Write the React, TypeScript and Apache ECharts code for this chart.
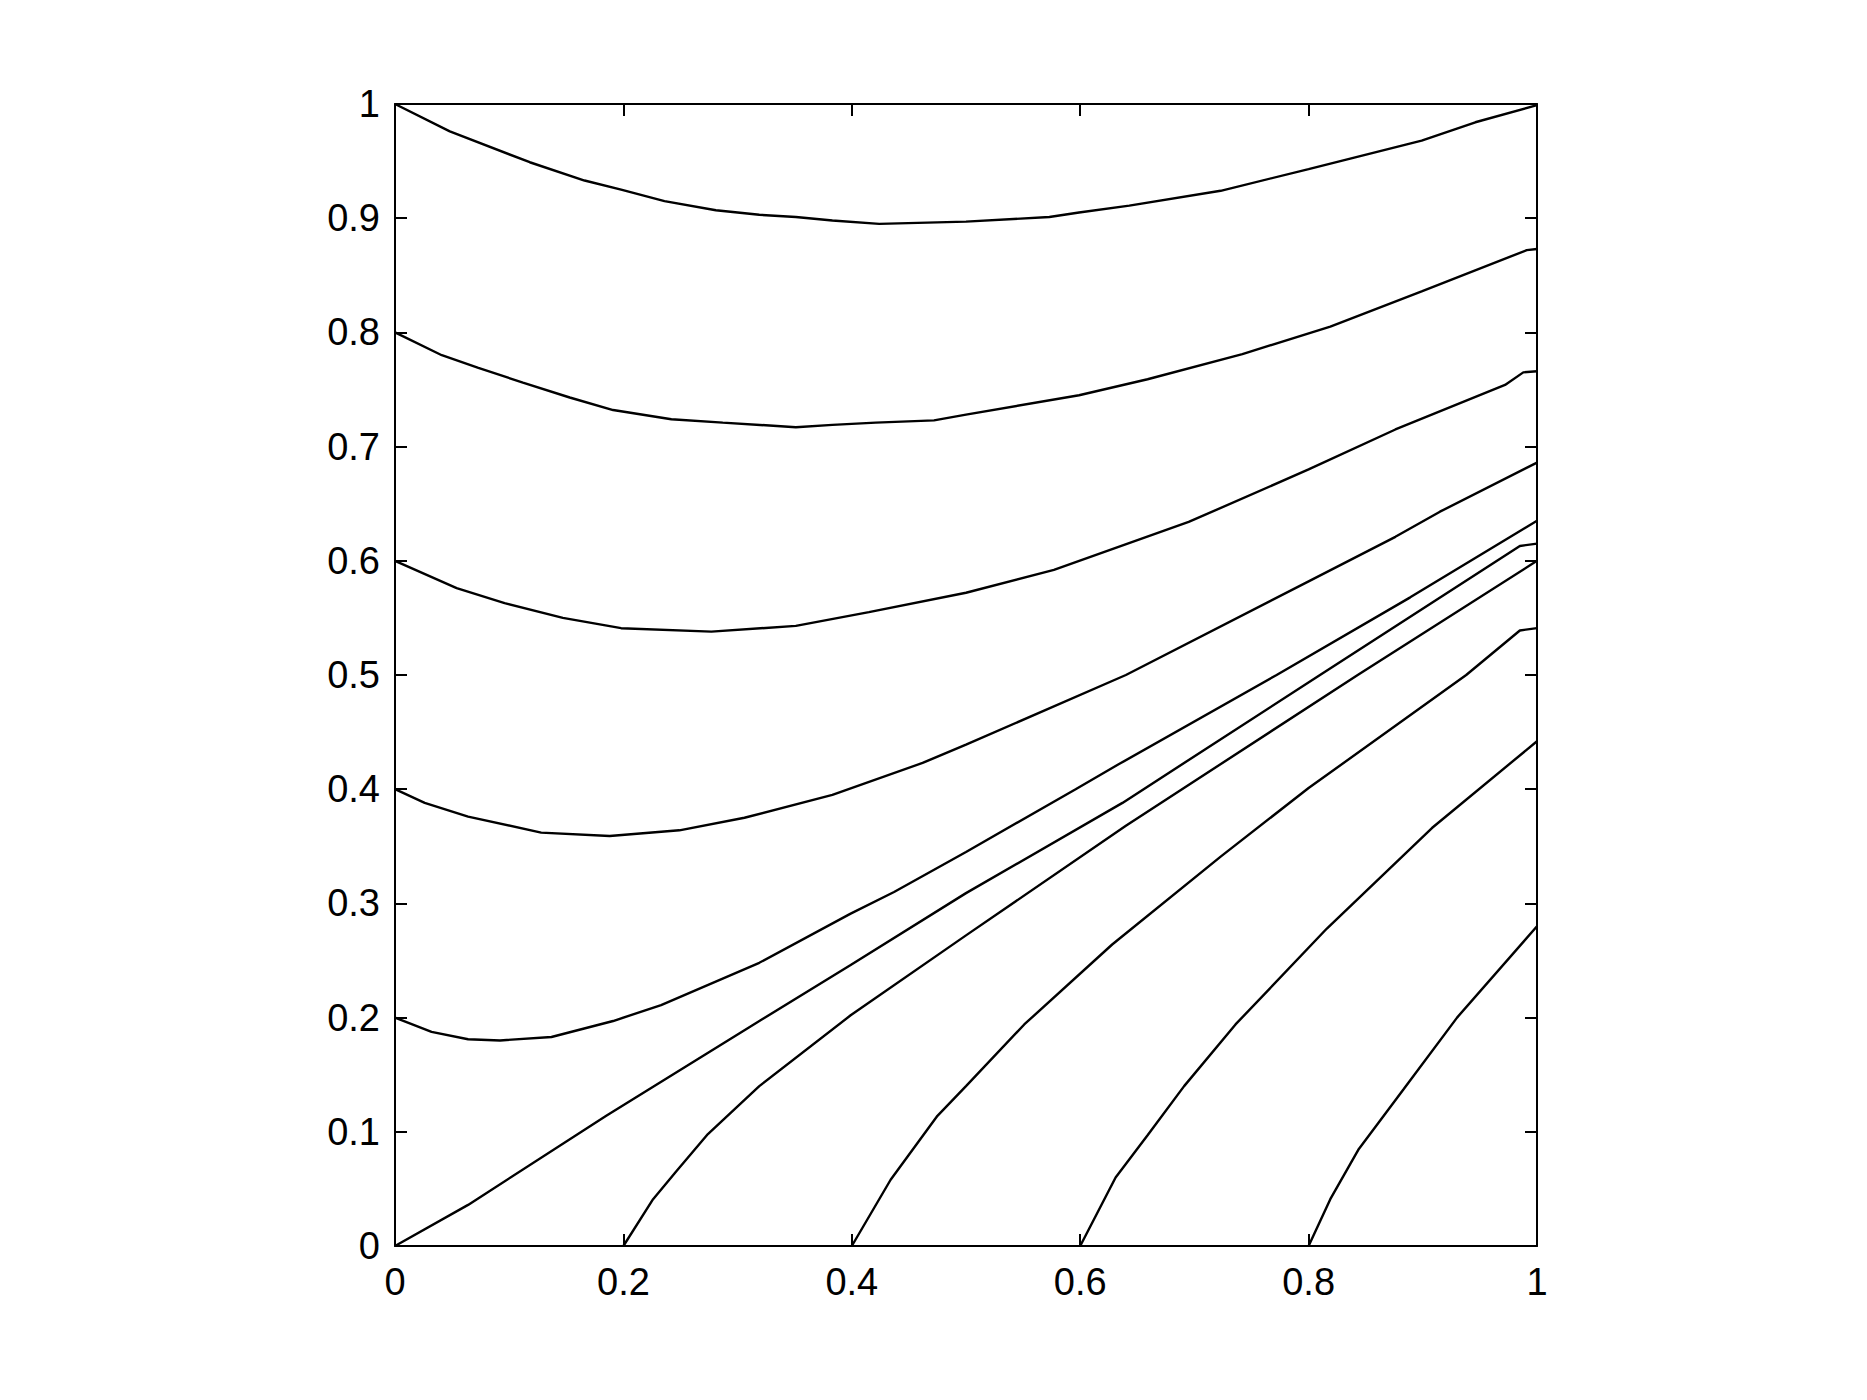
import React, { useEffect, useRef } from "react";
import * as echarts from "echarts";

// Streamline curves, each as [x, y] pairs
const curveFromY100: number[][] = [
  [0, 1.0], [0.048, 0.976], [0.118, 0.949], [0.166, 0.933], [0.198, 0.925], [0.236, 0.915],
  [0.281, 0.907], [0.319, 0.903], [0.351, 0.901], [0.383, 0.898], [0.424, 0.895], [0.5, 0.897],
  [0.573, 0.901], [0.599, 0.905], [0.643, 0.911], [0.723, 0.924], [0.8, 0.943], [0.899, 0.968],
  [0.946, 0.984], [1.0, 0.999],
];
const curveFromY080: number[][] = [
  [0, 0.8], [0.041, 0.78], [0.073, 0.769], [0.112, 0.756], [0.153, 0.743], [0.191, 0.732],
  [0.242, 0.724], [0.287, 0.721], [0.351, 0.717], [0.383, 0.719], [0.421, 0.721], [0.472, 0.723],
  [0.5, 0.728], [0.599, 0.745], [0.659, 0.759], [0.742, 0.781], [0.819, 0.805], [0.899, 0.836],
  [0.991, 0.872], [1.0, 0.873],
];
const curveFromY060: number[][] = [
  [0, 0.6], [0.054, 0.576], [0.096, 0.563], [0.147, 0.55], [0.198, 0.541], [0.277, 0.538],
  [0.351, 0.543], [0.415, 0.555], [0.5, 0.572], [0.577, 0.592], [0.695, 0.634], [0.8, 0.68],
  [0.876, 0.715], [0.972, 0.754], [0.988, 0.765], [1.0, 0.766],
];
const curveFromY040: number[][] = [
  [0, 0.4], [0.026, 0.388], [0.064, 0.376], [0.128, 0.362], [0.188, 0.359], [0.249, 0.364],
  [0.306, 0.375], [0.383, 0.395], [0.462, 0.423], [0.5, 0.439], [0.64, 0.5], [0.8, 0.582],
  [0.876, 0.621], [0.915, 0.643], [1.0, 0.686],
];
const curveFromY020: number[][] = [
  [0, 0.2], [0.032, 0.1875], [0.064, 0.181], [0.092, 0.18], [0.137, 0.183], [0.191, 0.197],
  [0.233, 0.211], [0.319, 0.248], [0.399, 0.291], [0.437, 0.31], [0.5, 0.345], [0.596, 0.4],
  [0.634, 0.422], [0.772, 0.5], [0.889, 0.568], [1.0, 0.635],
];
const curveFromOrigin: number[][] = [
  [0, 0], [0.064, 0.036], [0.185, 0.114], [0.306, 0.189], [0.399, 0.246], [0.5, 0.309],
  [0.637, 0.388], [0.81, 0.5], [0.985, 0.613], [1.0, 0.615],
];
const curveFromX020: number[][] = [
  [0.2, 0], [0.226, 0.041], [0.246, 0.065], [0.274, 0.098], [0.319, 0.14], [0.399, 0.202],
  [0.5, 0.272], [0.64, 0.368], [0.843, 0.5], [1.0, 0.6],
];
const curveFromX040: number[][] = [
  [0.4, 0], [0.434, 0.058], [0.475, 0.114], [0.5, 0.14], [0.551, 0.194], [0.628, 0.264],
  [0.723, 0.341], [0.8, 0.401], [0.938, 0.5], [0.985, 0.539], [1.0, 0.541],
];
const curveFromX060: number[][] = [
  [0.6, 0], [0.631, 0.06], [0.659, 0.097], [0.691, 0.14], [0.736, 0.194], [0.816, 0.278],
  [0.908, 0.366], [1.0, 0.442],
];
const curveFromX080: number[][] = [
  [0.8, 0], [0.819, 0.041], [0.844, 0.085], [0.883, 0.137], [0.93, 0.2], [1.0, 0.28],
];

const curves: number[][][] = [
  curveFromY100, curveFromY080, curveFromY060, curveFromY040, curveFromY020,
  curveFromOrigin, curveFromX020, curveFromX040, curveFromX060, curveFromX080,
];

const xMin = 0, xMax = 1, xStep = 0.2;
const yMin = 0, yMax = 1, yStep = 0.1;

export default function App() {
  const ref = useRef<HTMLDivElement>(null);
  useEffect(() => {
    if (!ref.current) return;
    const chart = echarts.init(ref.current, undefined, { renderer: "svg" });
    const font = "'Liberation Sans', Arial, Helvetica, sans-serif";
    const lineStyle = { color: "#000", width: 2 };
    const axisLine = { show: true, onZero: false, lineStyle };
    const tick = { show: true, inside: true, length: 12, lineStyle };
    const label = { color: "#000", fontSize: 38, fontFamily: font };
    chart.setOption({
      animation: false,
      backgroundColor: "#fff",
      grid: { left: 395, top: 104, width: 1142, height: 1142, containLabel: false },
      xAxis: [
        {
          type: "value", position: "bottom", min: xMin, max: xMax, interval: xStep,
          axisLine, axisTick: tick, splitLine: { show: false },
          axisLabel: { ...label, margin: 17 },
        },
        {
          type: "value", position: "top", min: xMin, max: xMax, interval: xStep,
          axisLine, axisTick: tick, splitLine: { show: false },
          axisLabel: { show: false },
        },
      ],
      yAxis: [
        {
          type: "value", position: "left", min: yMin, max: yMax, interval: yStep,
          axisLine, axisTick: tick, splitLine: { show: false },
          axisLabel: { ...label, margin: 15 },
        },
        {
          type: "value", position: "right", min: yMin, max: yMax, interval: yStep,
          axisLine, axisTick: tick, splitLine: { show: false },
          axisLabel: { show: false },
        },
      ],
      series: curves.map((c) => ({
        type: "line",
        xAxisIndex: 0,
        yAxisIndex: 0,
        data: c,
        showSymbol: false,
        symbol: "none",
        smooth: false,
        lineStyle: { color: "#000", width: 2.4 },
        silent: true,
      })),
    });
    return () => chart.dispose();
  }, []);
  return (
    <div
      ref={ref}
      style={{ position: "fixed", left: 0, top: 0, width: 1867, height: 1400, background: "#fff" }}
    />
  );
}
